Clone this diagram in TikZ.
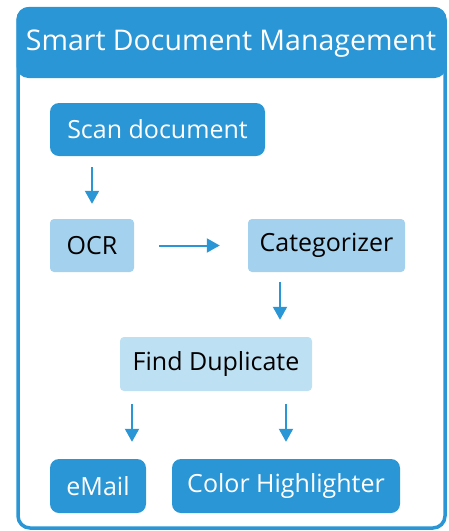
\documentclass[tikz,border=0pt]{standalone}
\usepackage{fontspec}
\setmainfont{Open Sans}
\usetikzlibrary{arrows.meta}
\definecolor{dblue}{RGB}{42,150,213}
\definecolor{lblue}{RGB}{164,209,237}
\definecolor{llblue}{RGB}{190,224,243}
\tikzset{
  box/.style={minimum height=53pt, inner sep=0pt, font=\fontsize{25}{28}\selectfont},
  darkbox/.style={box, fill=dblue, text=white, rounded corners=9pt},
  lightbox/.style={box, fill=lblue, text=black, rounded corners=4pt},
  lighterbox/.style={box, fill=llblue, text=black, rounded corners=4pt},
  arr/.style={draw=dblue, line width=2pt, -{Triangle[length=13pt,width=14pt]}}
}
\begin{document}
\begin{tikzpicture}[x=1pt,y=-1pt]
\useasboundingbox (0,0) rectangle (449,531);
% frame
\draw[dblue, line width=3.5pt, rounded corners=12pt] (18,8.5) rectangle (445,528);
\fill[dblue, rounded corners=12pt] (16.5,7) rectangle (446.5,78);
\node[text=white, font=\fontsize{28.5}{32}\selectfont] (title) at (231,44) {Smart Document Management};
% nodes
\node[darkbox, minimum width=215pt] (scan) at (157.5,129.5) {Scan document};
\node[lightbox, minimum width=84pt] (ocr) at (92,245.5) {OCR};
\node[lightbox, minimum width=157pt] (cat) at (326.5,245.5) {Categorizer};
\node[lighterbox, minimum width=192pt, minimum height=54pt] (dup) at (216,364) {Find Duplicate};
\node[darkbox, minimum width=96pt, minimum height=54pt] (email) at (98,486) {eMail};
\node[darkbox, minimum width=228pt, minimum height=54pt] (color) at (286,486) {Color Highlighter};
% helper coordinates
\coordinate (cdx) at (280,0);
\coordinate (edx) at (132,0);
% arrows
\draw[arr, shorten <=11pt, shorten >=15pt] (scan.south -| ocr.north) -- (ocr.north);
\draw[arr, shorten <=25pt, shorten >=28pt] (ocr.east) -- (cat.west);
\draw[arr, shorten <=10pt, shorten >=17pt] (cat.south -| cdx) -- (dup.north -| cdx);
\draw[arr, shorten <=13pt, shorten >=17pt] (dup.south -| edx) -- (email.north -| edx);
\draw[arr, shorten <=13pt, shorten >=17pt] (dup.south -| color.north) -- (color.north);
\end{tikzpicture}
\end{document}
